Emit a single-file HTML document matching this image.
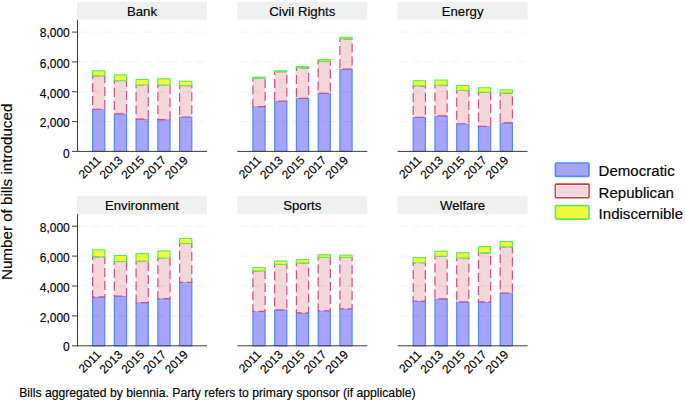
<!DOCTYPE html>
<html><head><meta charset="utf-8"><style>
html,body{margin:0;padding:0;background:#fff;}
body{width:685px;height:402px;overflow:hidden;}
svg{display:block;font-family:"Liberation Sans", sans-serif;}
text{fill:#000;stroke:#000;stroke-width:0.15px;}
</style></head><body>
<svg width="685" height="402" viewBox="0 0 685 402">
<rect width="685" height="402" fill="#fff"/>
<rect x="77" y="1.90" width="130.0" height="17.80" fill="#eef0ef"/>
<text x="142.00" y="15.80" font-size="13.2" text-anchor="middle">Bank</text>
<rect x="92.60" y="109.40" width="12.20" height="42.00" fill="#a6a4fb" stroke="#5289fa" stroke-width="1.2"/>
<path d="M92.60,75.80V109.40H104.80V75.80Z" fill="#f5d6da" stroke="#d84a80" stroke-width="1.2" stroke-dasharray="9 4" stroke-dashoffset="5.8"/>
<rect x="92.55" y="70.75" width="12.30" height="5.05" fill="#f2fb3c" stroke="#55ec55" stroke-width="1.1"/>
<text transform="translate(98.70,157.90) rotate(-45)" x="0" y="4.3" font-size="12" text-anchor="end">2011</text>
<rect x="114.35" y="113.80" width="12.20" height="37.60" fill="#a6a4fb" stroke="#5289fa" stroke-width="1.2"/>
<path d="M114.35,80.70V113.80H126.55V80.70Z" fill="#f5d6da" stroke="#d84a80" stroke-width="1.2" stroke-dasharray="9 4" stroke-dashoffset="5.8"/>
<rect x="114.30" y="74.95" width="12.30" height="5.75" fill="#f2fb3c" stroke="#55ec55" stroke-width="1.1"/>
<text transform="translate(120.45,157.90) rotate(-45)" x="0" y="4.3" font-size="12" text-anchor="end">2013</text>
<rect x="136.10" y="119.10" width="12.20" height="32.30" fill="#a6a4fb" stroke="#5289fa" stroke-width="1.2"/>
<path d="M136.10,85.00V119.10H148.30V85.00Z" fill="#f5d6da" stroke="#d84a80" stroke-width="1.2" stroke-dasharray="9 4" stroke-dashoffset="5.8"/>
<rect x="136.05" y="79.45" width="12.30" height="5.55" fill="#f2fb3c" stroke="#55ec55" stroke-width="1.1"/>
<text transform="translate(142.20,157.90) rotate(-45)" x="0" y="4.3" font-size="12" text-anchor="end">2015</text>
<rect x="157.85" y="119.60" width="12.20" height="31.80" fill="#a6a4fb" stroke="#5289fa" stroke-width="1.2"/>
<path d="M157.85,85.00V119.60H170.05V85.00Z" fill="#f5d6da" stroke="#d84a80" stroke-width="1.2" stroke-dasharray="9 4" stroke-dashoffset="5.8"/>
<rect x="157.80" y="78.75" width="12.30" height="6.25" fill="#f2fb3c" stroke="#55ec55" stroke-width="1.1"/>
<text transform="translate(163.95,157.90) rotate(-45)" x="0" y="4.3" font-size="12" text-anchor="end">2017</text>
<rect x="179.60" y="117.00" width="12.20" height="34.40" fill="#a6a4fb" stroke="#5289fa" stroke-width="1.2"/>
<path d="M179.60,85.70V117.00H191.80V85.70Z" fill="#f5d6da" stroke="#d84a80" stroke-width="1.2" stroke-dasharray="9 4" stroke-dashoffset="5.8"/>
<rect x="179.55" y="81.25" width="12.30" height="4.45" fill="#f2fb3c" stroke="#55ec55" stroke-width="1.1"/>
<text transform="translate(185.70,157.90) rotate(-45)" x="0" y="4.3" font-size="12" text-anchor="end">2019</text>
<line x1="78.5" x2="206.0" y1="121.58" y2="121.58" stroke="#000" stroke-opacity="0.055" stroke-width="1" stroke-dasharray="8 5" stroke-dashoffset="-0.5"/>
<line x1="78.5" x2="206.0" y1="91.75" y2="91.75" stroke="#000" stroke-opacity="0.055" stroke-width="1" stroke-dasharray="8 5" stroke-dashoffset="-0.5"/>
<line x1="78.5" x2="206.0" y1="61.92" y2="61.92" stroke="#000" stroke-opacity="0.055" stroke-width="1" stroke-dasharray="8 5" stroke-dashoffset="-0.5"/>
<line x1="78.5" x2="206.0" y1="32.10" y2="32.10" stroke="#000" stroke-opacity="0.055" stroke-width="1" stroke-dasharray="8 5" stroke-dashoffset="-0.5"/>
<line x1="77" x2="207.0" y1="151.40" y2="151.40" stroke="#3a3a3a" stroke-width="1"/>
<line x1="77.5" x2="77.5" y1="19.70" y2="151.90" stroke="#3a3a3a" stroke-width="1"/>
<line x1="72" x2="77.5" y1="151.40" y2="151.40" stroke="#3a3a3a" stroke-width="1"/>
<text x="69.80" y="157.90" font-size="12" text-anchor="end">0</text>
<line x1="72" x2="77.5" y1="121.58" y2="121.58" stroke="#3a3a3a" stroke-width="1"/>
<text x="69.80" y="127.08" font-size="12" text-anchor="end">2,000</text>
<line x1="72" x2="77.5" y1="91.75" y2="91.75" stroke="#3a3a3a" stroke-width="1"/>
<text x="69.80" y="97.95" font-size="12" text-anchor="end">4,000</text>
<line x1="72" x2="77.5" y1="61.92" y2="61.92" stroke="#3a3a3a" stroke-width="1"/>
<text x="69.80" y="67.92" font-size="12" text-anchor="end">6,000</text>
<line x1="72" x2="77.5" y1="32.10" y2="32.10" stroke="#3a3a3a" stroke-width="1"/>
<text x="69.80" y="37.10" font-size="12" text-anchor="end">8,000</text>
<rect x="237.3" y="1.90" width="130.0" height="17.80" fill="#eef0ef"/>
<text x="302.30" y="15.80" font-size="13.2" text-anchor="middle">Civil Rights</text>
<rect x="252.90" y="106.60" width="12.20" height="44.80" fill="#a6a4fb" stroke="#5289fa" stroke-width="1.2"/>
<path d="M252.90,78.20V106.60H265.10V78.20Z" fill="#f5d6da" stroke="#d84a80" stroke-width="1.2" stroke-dasharray="9 4" stroke-dashoffset="5.8"/>
<rect x="252.85" y="77.15" width="12.30" height="1.05" fill="#f2fb3c" stroke="#55ec55" stroke-width="1.1"/>
<text transform="translate(259.00,157.90) rotate(-45)" x="0" y="4.3" font-size="12" text-anchor="end">2011</text>
<rect x="274.65" y="101.20" width="12.20" height="50.20" fill="#a6a4fb" stroke="#5289fa" stroke-width="1.2"/>
<path d="M274.65,71.70V101.20H286.85V71.70Z" fill="#f5d6da" stroke="#d84a80" stroke-width="1.2" stroke-dasharray="9 4" stroke-dashoffset="5.8"/>
<rect x="274.60" y="70.85" width="12.30" height="0.85" fill="#f2fb3c" stroke="#55ec55" stroke-width="1.1"/>
<text transform="translate(280.75,157.90) rotate(-45)" x="0" y="4.3" font-size="12" text-anchor="end">2013</text>
<rect x="296.40" y="98.40" width="12.20" height="53.00" fill="#a6a4fb" stroke="#5289fa" stroke-width="1.2"/>
<path d="M296.40,67.80V98.40H308.60V67.80Z" fill="#f5d6da" stroke="#d84a80" stroke-width="1.2" stroke-dasharray="9 4" stroke-dashoffset="5.8"/>
<rect x="296.35" y="66.65" width="12.30" height="1.15" fill="#f2fb3c" stroke="#55ec55" stroke-width="1.1"/>
<text transform="translate(302.50,157.90) rotate(-45)" x="0" y="4.3" font-size="12" text-anchor="end">2015</text>
<rect x="318.15" y="93.30" width="12.20" height="58.10" fill="#a6a4fb" stroke="#5289fa" stroke-width="1.2"/>
<path d="M318.15,61.20V93.30H330.35V61.20Z" fill="#f5d6da" stroke="#d84a80" stroke-width="1.2" stroke-dasharray="9 4" stroke-dashoffset="5.8"/>
<rect x="318.10" y="59.65" width="12.30" height="1.55" fill="#f2fb3c" stroke="#55ec55" stroke-width="1.1"/>
<text transform="translate(324.25,157.90) rotate(-45)" x="0" y="4.3" font-size="12" text-anchor="end">2017</text>
<rect x="339.90" y="69.20" width="12.20" height="82.20" fill="#a6a4fb" stroke="#5289fa" stroke-width="1.2"/>
<path d="M339.90,38.80V69.20H352.10V38.80Z" fill="#f5d6da" stroke="#d84a80" stroke-width="1.2" stroke-dasharray="9 4" stroke-dashoffset="5.8"/>
<rect x="339.85" y="37.25" width="12.30" height="1.55" fill="#f2fb3c" stroke="#55ec55" stroke-width="1.1"/>
<text transform="translate(346.00,157.90) rotate(-45)" x="0" y="4.3" font-size="12" text-anchor="end">2019</text>
<line x1="238.8" x2="366.3" y1="121.58" y2="121.58" stroke="#000" stroke-opacity="0.055" stroke-width="1" stroke-dasharray="8 5" stroke-dashoffset="-0.5"/>
<line x1="238.8" x2="366.3" y1="91.75" y2="91.75" stroke="#000" stroke-opacity="0.055" stroke-width="1" stroke-dasharray="8 5" stroke-dashoffset="-0.5"/>
<line x1="238.8" x2="366.3" y1="61.92" y2="61.92" stroke="#000" stroke-opacity="0.055" stroke-width="1" stroke-dasharray="8 5" stroke-dashoffset="-0.5"/>
<line x1="238.8" x2="366.3" y1="32.10" y2="32.10" stroke="#000" stroke-opacity="0.055" stroke-width="1" stroke-dasharray="8 5" stroke-dashoffset="-0.5"/>
<line x1="237.3" x2="367.3" y1="151.40" y2="151.40" stroke="#3a3a3a" stroke-width="1"/>
<rect x="397.6" y="1.90" width="130.0" height="17.80" fill="#eef0ef"/>
<text x="462.60" y="15.80" font-size="13.2" text-anchor="middle">Energy</text>
<rect x="413.20" y="117.25" width="12.20" height="34.15" fill="#a6a4fb" stroke="#5289fa" stroke-width="1.2"/>
<path d="M413.20,85.80V117.25H425.40V85.80Z" fill="#f5d6da" stroke="#d84a80" stroke-width="1.2" stroke-dasharray="9 4" stroke-dashoffset="5.8"/>
<rect x="413.15" y="80.75" width="12.30" height="5.05" fill="#f2fb3c" stroke="#55ec55" stroke-width="1.1"/>
<text transform="translate(419.30,157.90) rotate(-45)" x="0" y="4.3" font-size="12" text-anchor="end">2011</text>
<rect x="434.95" y="115.85" width="12.20" height="35.55" fill="#a6a4fb" stroke="#5289fa" stroke-width="1.2"/>
<path d="M434.95,85.20V115.85H447.15V85.20Z" fill="#f5d6da" stroke="#d84a80" stroke-width="1.2" stroke-dasharray="9 4" stroke-dashoffset="5.8"/>
<rect x="434.90" y="80.05" width="12.30" height="5.15" fill="#f2fb3c" stroke="#55ec55" stroke-width="1.1"/>
<text transform="translate(441.05,157.90) rotate(-45)" x="0" y="4.3" font-size="12" text-anchor="end">2013</text>
<rect x="456.70" y="123.75" width="12.20" height="27.65" fill="#a6a4fb" stroke="#5289fa" stroke-width="1.2"/>
<path d="M456.70,90.50V123.75H468.90V90.50Z" fill="#f5d6da" stroke="#d84a80" stroke-width="1.2" stroke-dasharray="9 4" stroke-dashoffset="5.8"/>
<rect x="456.65" y="85.45" width="12.30" height="5.05" fill="#f2fb3c" stroke="#55ec55" stroke-width="1.1"/>
<text transform="translate(462.80,157.90) rotate(-45)" x="0" y="4.3" font-size="12" text-anchor="end">2015</text>
<rect x="478.45" y="126.35" width="12.20" height="25.05" fill="#a6a4fb" stroke="#5289fa" stroke-width="1.2"/>
<path d="M478.45,92.40V126.35H490.65V92.40Z" fill="#f5d6da" stroke="#d84a80" stroke-width="1.2" stroke-dasharray="9 4" stroke-dashoffset="5.8"/>
<rect x="478.40" y="87.75" width="12.30" height="4.65" fill="#f2fb3c" stroke="#55ec55" stroke-width="1.1"/>
<text transform="translate(484.55,157.90) rotate(-45)" x="0" y="4.3" font-size="12" text-anchor="end">2017</text>
<rect x="500.20" y="122.85" width="12.20" height="28.55" fill="#a6a4fb" stroke="#5289fa" stroke-width="1.2"/>
<path d="M500.20,93.10V122.85H512.40V93.10Z" fill="#f5d6da" stroke="#d84a80" stroke-width="1.2" stroke-dasharray="9 4" stroke-dashoffset="5.8"/>
<rect x="500.15" y="89.85" width="12.30" height="3.25" fill="#f2fb3c" stroke="#55ec55" stroke-width="1.1"/>
<text transform="translate(506.30,157.90) rotate(-45)" x="0" y="4.3" font-size="12" text-anchor="end">2019</text>
<line x1="399.1" x2="526.6" y1="121.58" y2="121.58" stroke="#000" stroke-opacity="0.055" stroke-width="1" stroke-dasharray="8 5" stroke-dashoffset="-0.5"/>
<line x1="399.1" x2="526.6" y1="91.75" y2="91.75" stroke="#000" stroke-opacity="0.055" stroke-width="1" stroke-dasharray="8 5" stroke-dashoffset="-0.5"/>
<line x1="399.1" x2="526.6" y1="61.92" y2="61.92" stroke="#000" stroke-opacity="0.055" stroke-width="1" stroke-dasharray="8 5" stroke-dashoffset="-0.5"/>
<line x1="399.1" x2="526.6" y1="32.10" y2="32.10" stroke="#000" stroke-opacity="0.055" stroke-width="1" stroke-dasharray="8 5" stroke-dashoffset="-0.5"/>
<line x1="397.6" x2="527.6" y1="151.40" y2="151.40" stroke="#3a3a3a" stroke-width="1"/>
<rect x="77" y="196.20" width="130.0" height="17.80" fill="#eef0ef"/>
<text x="142.00" y="210.10" font-size="13.2" text-anchor="middle">Environment</text>
<rect x="92.60" y="296.90" width="12.20" height="48.90" fill="#a6a4fb" stroke="#5289fa" stroke-width="1.2"/>
<path d="M92.60,256.80V296.90H104.80V256.80Z" fill="#f5d6da" stroke="#d84a80" stroke-width="1.2" stroke-dasharray="9 4" stroke-dashoffset="5.8"/>
<rect x="92.55" y="249.85" width="12.30" height="6.95" fill="#f2fb3c" stroke="#55ec55" stroke-width="1.1"/>
<text transform="translate(98.70,352.30) rotate(-45)" x="0" y="4.3" font-size="12" text-anchor="end">2011</text>
<rect x="114.35" y="296.00" width="12.20" height="49.80" fill="#a6a4fb" stroke="#5289fa" stroke-width="1.2"/>
<path d="M114.35,261.50V296.00H126.55V261.50Z" fill="#f5d6da" stroke="#d84a80" stroke-width="1.2" stroke-dasharray="9 4" stroke-dashoffset="5.8"/>
<rect x="114.30" y="255.45" width="12.30" height="6.05" fill="#f2fb3c" stroke="#55ec55" stroke-width="1.1"/>
<text transform="translate(120.45,352.30) rotate(-45)" x="0" y="4.3" font-size="12" text-anchor="end">2013</text>
<rect x="136.10" y="302.60" width="12.20" height="43.20" fill="#a6a4fb" stroke="#5289fa" stroke-width="1.2"/>
<path d="M136.10,261.20V302.60H148.30V261.20Z" fill="#f5d6da" stroke="#d84a80" stroke-width="1.2" stroke-dasharray="9 4" stroke-dashoffset="5.8"/>
<rect x="136.05" y="253.65" width="12.30" height="7.55" fill="#f2fb3c" stroke="#55ec55" stroke-width="1.1"/>
<text transform="translate(142.20,352.30) rotate(-45)" x="0" y="4.3" font-size="12" text-anchor="end">2015</text>
<rect x="157.85" y="298.60" width="12.20" height="47.20" fill="#a6a4fb" stroke="#5289fa" stroke-width="1.2"/>
<path d="M157.85,258.00V298.60H170.05V258.00Z" fill="#f5d6da" stroke="#d84a80" stroke-width="1.2" stroke-dasharray="9 4" stroke-dashoffset="5.8"/>
<rect x="157.80" y="251.05" width="12.30" height="6.95" fill="#f2fb3c" stroke="#55ec55" stroke-width="1.1"/>
<text transform="translate(163.95,352.30) rotate(-45)" x="0" y="4.3" font-size="12" text-anchor="end">2017</text>
<rect x="179.60" y="282.30" width="12.20" height="63.50" fill="#a6a4fb" stroke="#5289fa" stroke-width="1.2"/>
<path d="M179.60,243.50V282.30H191.80V243.50Z" fill="#f5d6da" stroke="#d84a80" stroke-width="1.2" stroke-dasharray="9 4" stroke-dashoffset="5.8"/>
<rect x="179.55" y="238.45" width="12.30" height="5.05" fill="#f2fb3c" stroke="#55ec55" stroke-width="1.1"/>
<text transform="translate(185.70,352.30) rotate(-45)" x="0" y="4.3" font-size="12" text-anchor="end">2019</text>
<line x1="78.5" x2="206.0" y1="315.90" y2="315.90" stroke="#000" stroke-opacity="0.055" stroke-width="1" stroke-dasharray="8 5" stroke-dashoffset="-0.5"/>
<line x1="78.5" x2="206.0" y1="286.00" y2="286.00" stroke="#000" stroke-opacity="0.055" stroke-width="1" stroke-dasharray="8 5" stroke-dashoffset="-0.5"/>
<line x1="78.5" x2="206.0" y1="256.10" y2="256.10" stroke="#000" stroke-opacity="0.055" stroke-width="1" stroke-dasharray="8 5" stroke-dashoffset="-0.5"/>
<line x1="78.5" x2="206.0" y1="226.20" y2="226.20" stroke="#000" stroke-opacity="0.055" stroke-width="1" stroke-dasharray="8 5" stroke-dashoffset="-0.5"/>
<line x1="77" x2="207.0" y1="345.80" y2="345.80" stroke="#3a3a3a" stroke-width="1"/>
<line x1="77.5" x2="77.5" y1="214.00" y2="346.30" stroke="#3a3a3a" stroke-width="1"/>
<line x1="72" x2="77.5" y1="345.80" y2="345.80" stroke="#3a3a3a" stroke-width="1"/>
<text x="69.80" y="351.40" font-size="12" text-anchor="end">0</text>
<line x1="72" x2="77.5" y1="315.90" y2="315.90" stroke="#3a3a3a" stroke-width="1"/>
<text x="69.80" y="321.70" font-size="12" text-anchor="end">2,000</text>
<line x1="72" x2="77.5" y1="286.00" y2="286.00" stroke="#3a3a3a" stroke-width="1"/>
<text x="69.80" y="291.50" font-size="12" text-anchor="end">4,000</text>
<line x1="72" x2="77.5" y1="256.10" y2="256.10" stroke="#3a3a3a" stroke-width="1"/>
<text x="69.80" y="261.60" font-size="12" text-anchor="end">6,000</text>
<line x1="72" x2="77.5" y1="226.20" y2="226.20" stroke="#3a3a3a" stroke-width="1"/>
<text x="69.80" y="231.70" font-size="12" text-anchor="end">8,000</text>
<rect x="237.3" y="196.20" width="130.0" height="17.80" fill="#eef0ef"/>
<text x="302.30" y="210.10" font-size="13.2" text-anchor="middle">Sports</text>
<rect x="252.90" y="311.45" width="12.20" height="34.35" fill="#a6a4fb" stroke="#5289fa" stroke-width="1.2"/>
<path d="M252.90,271.00V311.45H265.10V271.00Z" fill="#f5d6da" stroke="#d84a80" stroke-width="1.2" stroke-dasharray="9 4" stroke-dashoffset="5.8"/>
<rect x="252.85" y="267.55" width="12.30" height="3.45" fill="#f2fb3c" stroke="#55ec55" stroke-width="1.1"/>
<text transform="translate(259.00,352.30) rotate(-45)" x="0" y="4.3" font-size="12" text-anchor="end">2011</text>
<rect x="274.65" y="309.85" width="12.20" height="35.95" fill="#a6a4fb" stroke="#5289fa" stroke-width="1.2"/>
<path d="M274.65,264.40V309.85H286.85V264.40Z" fill="#f5d6da" stroke="#d84a80" stroke-width="1.2" stroke-dasharray="9 4" stroke-dashoffset="5.8"/>
<rect x="274.60" y="261.05" width="12.30" height="3.35" fill="#f2fb3c" stroke="#55ec55" stroke-width="1.1"/>
<text transform="translate(280.75,352.30) rotate(-45)" x="0" y="4.3" font-size="12" text-anchor="end">2013</text>
<rect x="296.40" y="312.85" width="12.20" height="32.95" fill="#a6a4fb" stroke="#5289fa" stroke-width="1.2"/>
<path d="M296.40,263.00V312.85H308.60V263.00Z" fill="#f5d6da" stroke="#d84a80" stroke-width="1.2" stroke-dasharray="9 4" stroke-dashoffset="5.8"/>
<rect x="296.35" y="259.65" width="12.30" height="3.35" fill="#f2fb3c" stroke="#55ec55" stroke-width="1.1"/>
<text transform="translate(302.50,352.30) rotate(-45)" x="0" y="4.3" font-size="12" text-anchor="end">2015</text>
<rect x="318.15" y="310.75" width="12.20" height="35.05" fill="#a6a4fb" stroke="#5289fa" stroke-width="1.2"/>
<path d="M318.15,257.40V310.75H330.35V257.40Z" fill="#f5d6da" stroke="#d84a80" stroke-width="1.2" stroke-dasharray="9 4" stroke-dashoffset="5.8"/>
<rect x="318.10" y="254.75" width="12.30" height="2.65" fill="#f2fb3c" stroke="#55ec55" stroke-width="1.1"/>
<text transform="translate(324.25,352.30) rotate(-45)" x="0" y="4.3" font-size="12" text-anchor="end">2017</text>
<rect x="339.90" y="308.75" width="12.20" height="37.05" fill="#a6a4fb" stroke="#5289fa" stroke-width="1.2"/>
<path d="M339.90,257.40V308.75H352.10V257.40Z" fill="#f5d6da" stroke="#d84a80" stroke-width="1.2" stroke-dasharray="9 4" stroke-dashoffset="5.8"/>
<rect x="339.85" y="255.15" width="12.30" height="2.25" fill="#f2fb3c" stroke="#55ec55" stroke-width="1.1"/>
<text transform="translate(346.00,352.30) rotate(-45)" x="0" y="4.3" font-size="12" text-anchor="end">2019</text>
<line x1="238.8" x2="366.3" y1="315.90" y2="315.90" stroke="#000" stroke-opacity="0.055" stroke-width="1" stroke-dasharray="8 5" stroke-dashoffset="-0.5"/>
<line x1="238.8" x2="366.3" y1="286.00" y2="286.00" stroke="#000" stroke-opacity="0.055" stroke-width="1" stroke-dasharray="8 5" stroke-dashoffset="-0.5"/>
<line x1="238.8" x2="366.3" y1="256.10" y2="256.10" stroke="#000" stroke-opacity="0.055" stroke-width="1" stroke-dasharray="8 5" stroke-dashoffset="-0.5"/>
<line x1="238.8" x2="366.3" y1="226.20" y2="226.20" stroke="#000" stroke-opacity="0.055" stroke-width="1" stroke-dasharray="8 5" stroke-dashoffset="-0.5"/>
<line x1="237.3" x2="367.3" y1="345.80" y2="345.80" stroke="#3a3a3a" stroke-width="1"/>
<rect x="397.6" y="196.20" width="130.0" height="17.80" fill="#eef0ef"/>
<text x="462.60" y="210.10" font-size="13.2" text-anchor="middle">Welfare</text>
<rect x="413.20" y="301.00" width="12.20" height="44.80" fill="#a6a4fb" stroke="#5289fa" stroke-width="1.2"/>
<path d="M413.20,262.70V301.00H425.40V262.70Z" fill="#f5d6da" stroke="#d84a80" stroke-width="1.2" stroke-dasharray="9 4" stroke-dashoffset="5.8"/>
<rect x="413.15" y="257.65" width="12.30" height="5.05" fill="#f2fb3c" stroke="#55ec55" stroke-width="1.1"/>
<text transform="translate(419.30,352.30) rotate(-45)" x="0" y="4.3" font-size="12" text-anchor="end">2011</text>
<rect x="434.95" y="298.90" width="12.20" height="46.90" fill="#a6a4fb" stroke="#5289fa" stroke-width="1.2"/>
<path d="M434.95,256.30V298.90H447.15V256.30Z" fill="#f5d6da" stroke="#d84a80" stroke-width="1.2" stroke-dasharray="9 4" stroke-dashoffset="5.8"/>
<rect x="434.90" y="251.25" width="12.30" height="5.05" fill="#f2fb3c" stroke="#55ec55" stroke-width="1.1"/>
<text transform="translate(441.05,352.30) rotate(-45)" x="0" y="4.3" font-size="12" text-anchor="end">2013</text>
<rect x="456.70" y="301.90" width="12.20" height="43.90" fill="#a6a4fb" stroke="#5289fa" stroke-width="1.2"/>
<path d="M456.70,258.00V301.90H468.90V258.00Z" fill="#f5d6da" stroke="#d84a80" stroke-width="1.2" stroke-dasharray="9 4" stroke-dashoffset="5.8"/>
<rect x="456.65" y="252.75" width="12.30" height="5.25" fill="#f2fb3c" stroke="#55ec55" stroke-width="1.1"/>
<text transform="translate(462.80,352.30) rotate(-45)" x="0" y="4.3" font-size="12" text-anchor="end">2015</text>
<rect x="478.45" y="301.90" width="12.20" height="43.90" fill="#a6a4fb" stroke="#5289fa" stroke-width="1.2"/>
<path d="M478.45,252.80V301.90H490.65V252.80Z" fill="#f5d6da" stroke="#d84a80" stroke-width="1.2" stroke-dasharray="9 4" stroke-dashoffset="5.8"/>
<rect x="478.40" y="246.65" width="12.30" height="6.15" fill="#f2fb3c" stroke="#55ec55" stroke-width="1.1"/>
<text transform="translate(484.55,352.30) rotate(-45)" x="0" y="4.3" font-size="12" text-anchor="end">2017</text>
<rect x="500.20" y="293.20" width="12.20" height="52.60" fill="#a6a4fb" stroke="#5289fa" stroke-width="1.2"/>
<path d="M500.20,247.00V293.20H512.40V247.00Z" fill="#f5d6da" stroke="#d84a80" stroke-width="1.2" stroke-dasharray="9 4" stroke-dashoffset="5.8"/>
<rect x="500.15" y="241.55" width="12.30" height="5.45" fill="#f2fb3c" stroke="#55ec55" stroke-width="1.1"/>
<text transform="translate(506.30,352.30) rotate(-45)" x="0" y="4.3" font-size="12" text-anchor="end">2019</text>
<line x1="399.1" x2="526.6" y1="315.90" y2="315.90" stroke="#000" stroke-opacity="0.055" stroke-width="1" stroke-dasharray="8 5" stroke-dashoffset="-0.5"/>
<line x1="399.1" x2="526.6" y1="286.00" y2="286.00" stroke="#000" stroke-opacity="0.055" stroke-width="1" stroke-dasharray="8 5" stroke-dashoffset="-0.5"/>
<line x1="399.1" x2="526.6" y1="256.10" y2="256.10" stroke="#000" stroke-opacity="0.055" stroke-width="1" stroke-dasharray="8 5" stroke-dashoffset="-0.5"/>
<line x1="399.1" x2="526.6" y1="226.20" y2="226.20" stroke="#000" stroke-opacity="0.055" stroke-width="1" stroke-dasharray="8 5" stroke-dashoffset="-0.5"/>
<line x1="397.6" x2="527.6" y1="345.80" y2="345.80" stroke="#3a3a3a" stroke-width="1"/>
<text transform="translate(12.0,191.85) rotate(-90)" x="0" y="0" font-size="15.2" text-anchor="middle">Number of bills introduced</text>
<rect x="555.40" y="163.00" width="33.60" height="13.40" rx="1" fill="#a6a4fb" stroke="#5289fa" stroke-width="1.6"/>
<text x="598.6" y="176.2" font-size="15.05">Democratic</text>
<rect x="555.40" y="184.10" width="33.60" height="13.70" rx="1" fill="#f5d6da" stroke="#e4303e" stroke-width="1.6"/>
<rect x="556.70" y="185.40" width="31.00" height="11.10" fill="none" stroke="#fff" stroke-width="0.8" opacity="0.9"/>
<text x="598.6" y="197.5" font-size="15.05">Republican</text>
<rect x="555.40" y="205.50" width="33.60" height="13.60" rx="1" fill="#eff83a" stroke="#55ec55" stroke-width="1.6"/>
<text x="598.6" y="218.6" font-size="15.05">Indiscernible</text>
<text x="19.2" y="397.3" font-size="12.2">Bills aggregated by biennia. Party refers to primary sponsor (if applicable)</text>
</svg>
</body></html>
